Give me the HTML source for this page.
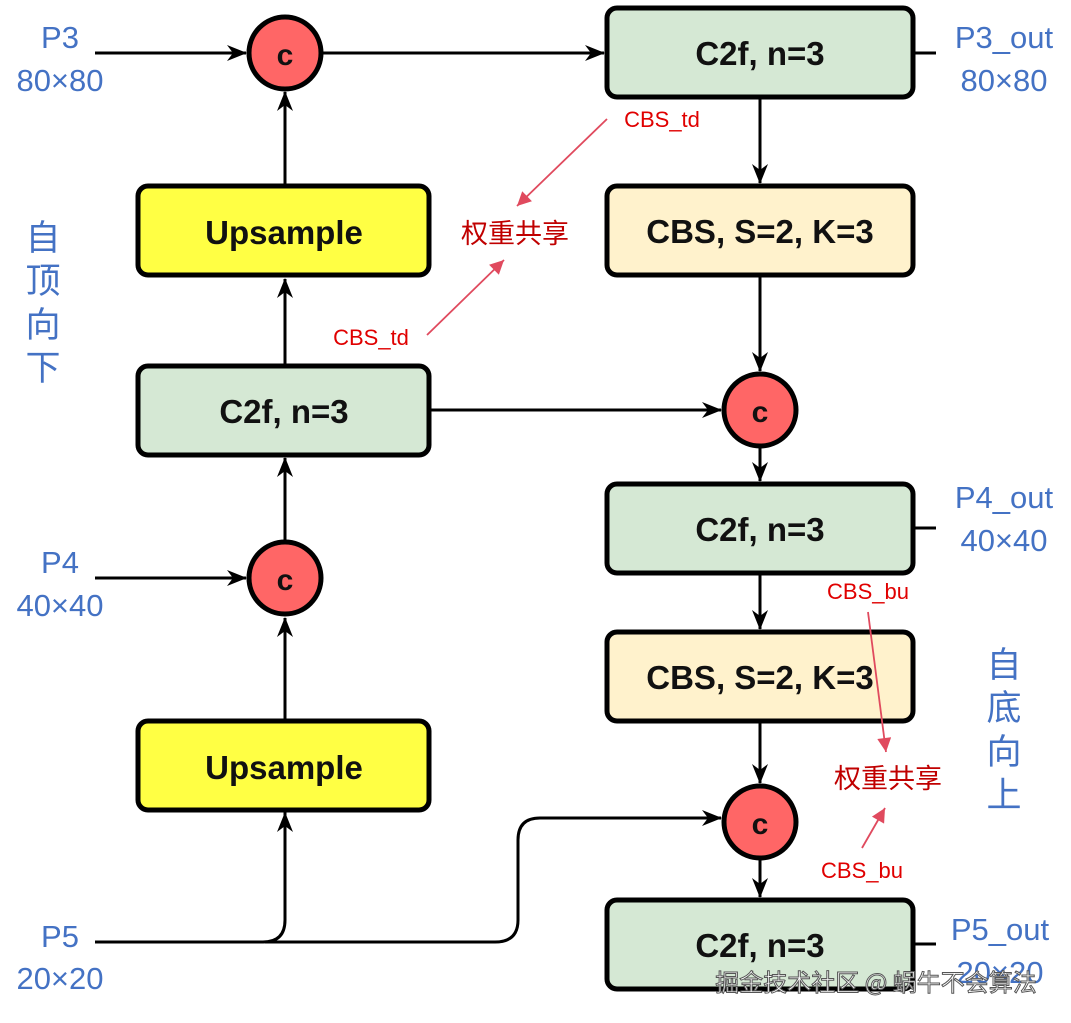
<!DOCTYPE html>
<html><head><meta charset="utf-8"><style>
html,body{margin:0;padding:0;background:#fff;}
svg{display:block;}
.bt{font-family:"Liberation Sans",sans-serif;font-weight:bold;font-size:33px;fill:#111;}
.lb{font-family:"Liberation Sans","Noto Sans CJK SC",sans-serif;font-size:31px;fill:#4472c4;}
.rd{font-family:"Liberation Sans","Noto Sans CJK SC",sans-serif;font-size:22px;fill:#e00000;}
.rz{font-family:"Liberation Sans","Noto Sans CJK SC",sans-serif;font-size:27px;fill:#c00000;}
.vc{font-family:"Noto Sans CJK SC",sans-serif;font-size:35px;fill:#4472c4;}
</style></head><body>
<svg width="1071" height="1023" viewBox="0 0 1071 1023" xmlns="http://www.w3.org/2000/svg">
<defs>
<marker id="a" viewBox="0 0 20 16" refX="19" refY="8" markerWidth="20" markerHeight="16" orient="auto" markerUnits="userSpaceOnUse">
<path d="M0,0 L20,8 L0,16 L6,8 z" fill="#000"/>
</marker>
<marker id="r" viewBox="0 0 10 10" refX="10" refY="5" markerWidth="16" markerHeight="14" orient="auto" markerUnits="userSpaceOnUse">
<path d="M0,0 L10,5 L0,10 z" fill="#e04a5e"/>
</marker>
</defs>
<g stroke="#000" stroke-width="3" fill="none">
<path d="M95,53 H246" marker-end="url(#a)"/>
<path d="M322,53 H604" marker-end="url(#a)"/>
<path d="M285,185 V92" marker-end="url(#a)"/>
<path d="M285,365 V279" marker-end="url(#a)"/>
<path d="M285,541 V458" marker-end="url(#a)"/>
<path d="M95,578 H246" marker-end="url(#a)"/>
<path d="M285,720 V813" fill="none"/>
<path d="M95,942 H263 Q285,942 285,920 V813" marker-end="url(#a)"/>
<path d="M265,942 H495 Q518,942 518,920 V840 Q518,818 540,818 H721" marker-end="url(#a)"/>
<path d="M285,720 V618" marker-end="url(#a)"/>
<path d="M430,410 H721" marker-end="url(#a)"/>
<path d="M760,97 V183" marker-end="url(#a)"/>
<path d="M760,275 V371" marker-end="url(#a)"/>
<path d="M760,447 V481" marker-end="url(#a)"/>
<path d="M760,573 V629" marker-end="url(#a)"/>
<path d="M760,721 V783" marker-end="url(#a)"/>
<path d="M760,859 V897" marker-end="url(#a)"/>
<path d="M914,53 H936 M914,528 H936 M914,944 H936"/>
</g>
<g stroke="#000" stroke-width="5">
<rect x="607" y="8" width="306" height="89" rx="10" fill="#d5e8d4"/>
<rect x="607" y="186" width="306" height="89" rx="10" fill="#fff2cc"/>
<rect x="607" y="484" width="306" height="89" rx="10" fill="#d5e8d4"/>
<rect x="607" y="632" width="306" height="89" rx="10" fill="#fff2cc"/>
<rect x="607" y="900" width="306" height="89" rx="10" fill="#d5e8d4"/>
<rect x="138" y="186" width="291" height="89" rx="10" fill="#ffff44"/>
<rect x="138" y="366" width="291" height="89" rx="10" fill="#d5e8d4"/>
<rect x="138" y="721" width="291" height="89" rx="10" fill="#ffff44"/>
<circle cx="285" cy="53" r="36" fill="#f66"/>
<circle cx="285" cy="578" r="36" fill="#f66"/>
<circle cx="760" cy="410" r="36" fill="#f66"/>
<circle cx="760" cy="822" r="36" fill="#f66"/>
</g>
<g class="bt" text-anchor="middle">
<text x="760" y="65">C2f, n=3</text>
<text x="760" y="243">CBS, S=2, K=3</text>
<text x="760" y="541">C2f, n=3</text>
<text x="760" y="689">CBS, S=2, K=3</text>
<text x="760" y="957">C2f, n=3</text>
<text x="284" y="244">Upsample</text>
<text x="284" y="423">C2f, n=3</text>
<text x="284" y="779">Upsample</text>
<text x="285" y="65" font-size="30">c</text>
<text x="285" y="590" font-size="30">c</text>
<text x="760" y="422" font-size="30">c</text>
<text x="760" y="834" font-size="30">c</text>
</g>
<g class="lb" text-anchor="middle">
<text x="60" y="48">P3</text><text x="60" y="91">80×80</text>
<text x="60" y="573">P4</text><text x="60" y="616">40×40</text>
<text x="60" y="947">P5</text><text x="60" y="989">20×20</text>
<text x="1004" y="48">P3_out</text><text x="1004" y="91">80×80</text>
<text x="1004" y="508">P4_out</text><text x="1004" y="551">40×40</text>
<text x="1000" y="940">P5_out</text><text x="1000" y="983">20×20</text>
</g>
<g class="vc" text-anchor="middle">
<text x="43" y="250">自</text><text x="43" y="293">顶</text><text x="43" y="337">向</text><text x="43" y="380">下</text>
<text x="1004" y="677">自</text><text x="1004" y="720">底</text><text x="1004" y="764">向</text><text x="1004" y="807">上</text>
</g>
<g stroke="#e04a5e" stroke-width="1.8" fill="none">
<path d="M607,119 L517,206" marker-end="url(#r)"/>
<path d="M427,335 L504,260" marker-end="url(#r)"/>
<path d="M868,612 L886,752" marker-end="url(#r)"/>
<path d="M862,848 L885,808" marker-end="url(#r)"/>
</g>
<g class="rd" text-anchor="middle">
<text x="662" y="127">CBS_td</text>
<text x="371" y="345">CBS_td</text>
<text x="868" y="599">CBS_bu</text>
<text x="862" y="878">CBS_bu</text>
</g>
<g class="rz" text-anchor="middle">
<text x="515" y="243">权重共享</text>
<text x="888" y="788">权重共享</text>
</g>
<text x="876" y="991" text-anchor="middle" font-family="Noto Sans CJK SC,sans-serif" font-size="24" fill="#fff" stroke="#555" stroke-width="1">掘金技术社区 @ 蜗牛不会算法</text>
</svg>
</body></html>
